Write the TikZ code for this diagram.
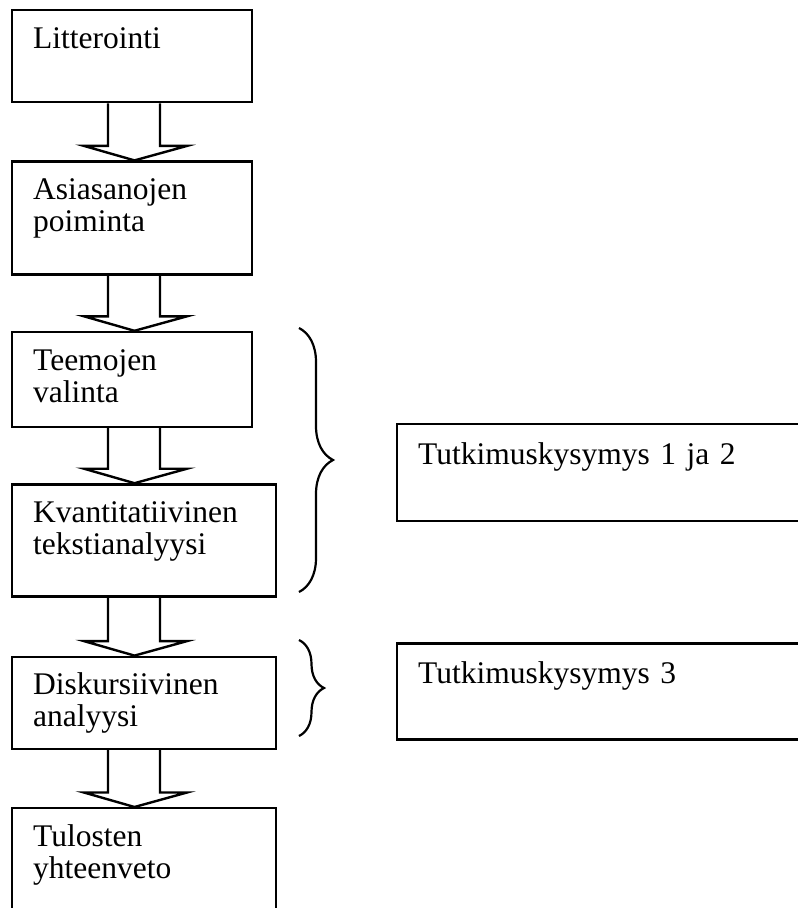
\documentclass[tikz,border=0pt]{standalone}
\usepackage{fontspec}
\setmainfont{Liberation Serif}
\usetikzlibrary{positioning,calc,decorations.pathreplacing}
\tikzstyle{stage} = [draw, rectangle, line width=2.4pt, anchor=north west,
    align=left, inner xsep=21pt, inner ysep=0pt, text width=198pt,
    text height=38pt, font=\fontsize{31.5}{32}\selectfont]
\tikzstyle{widestage} = [stage, text width=222pt]
\tikzstyle{question} = [stage, text width=400pt, text height=40pt]
\tikzstyle{hollow} = [draw, line width=2.4pt, line join=miter]
\tikzstyle{bracket} = [draw, line width=2.2pt, decorate]
\newcommand{\blockarrow}[2]{%
  \draw[hollow] ($(#1.south west)+(97,0)$) -- ($(#2.north west)+(97,14.5)$)
    -- ($(#2.north west)+(73,14.5)$) -- ($(#2.north west)+(123.5,0)$)
    -- ($(#2.north west)+(176,14.5)$) -- ($(#2.north west)+(149,14.5)$)
    -- ($(#1.south west)+(149,0)$);}
\begin{document}
\begin{tikzpicture}[x=1pt, y=1pt]
  \useasboundingbox (0,0) rectangle (798,-908);
  % Place nodes
  \node [stage, text depth=54pt] (b1) at (11,-9) {Litterointi};
  \node [stage, text depth=75pt, below=57pt of b1.south west, anchor=north west] (b2)
  {Asiasanojen\\poiminta};
  \node [stage, text depth=57pt, below=55pt of b2.south west, anchor=north west] (b3)
  {Teemojen\\valinta};
  \node [widestage, text depth=74pt, below=55pt of b3.south west, anchor=north west] (b4)
  {Kvantitatiivinen\\tekstianalyysi};
  \node [widestage, text depth=54pt, below=58pt of b4.south west, anchor=north west] (b5)
  {Diskursiivinen\\analyysi};
  \node [widestage, text depth=72.5pt, below=57pt of b5.south west, anchor=north west] (b6)
  {Tulosten\\yhteenveto};
  \node [question, text depth=57pt] (q12) at (396,-423) {Tutkimuskysymys 1 ja 2};
  \node [question, text depth=56pt, below=120pt of q12.south west, anchor=north west] (q3)
  {Tutkimuskysymys 3};
  % Arrows
  \blockarrow{b1}{b2}
  \blockarrow{b2}{b3}
  \blockarrow{b3}{b4}
  \blockarrow{b4}{b5}
  \blockarrow{b5}{b6}
  % Braces
  \draw [bracket, decoration={brace, amplitude=34pt}] (299,-328) -- (299,-592);
  \draw [bracket, decoration={brace, amplitude=25pt}] (299,-640) -- (299,-736);
\end{tikzpicture}
\end{document}
